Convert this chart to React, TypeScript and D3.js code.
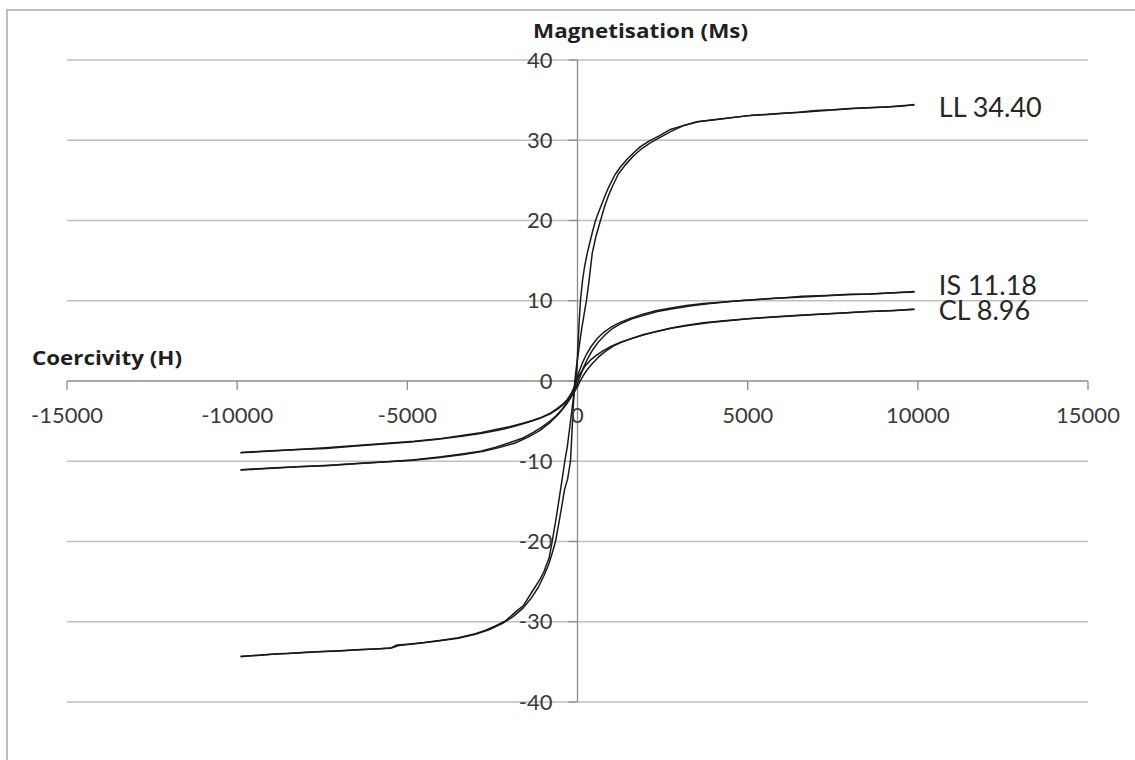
import * as d3 from "d3";

// hysteresis loops: H (coercivity) and M (magnetisation)
const llDownH = [9900, 9500, 9000, 8500, 8000, 7500, 7000, 6500, 6000, 5500, 5000, 4500, 4000, 3500, 3000, 2700, 2400, 2100, 1850, 1650, 1450, 1250, 1100, 920, 800, 700, 600, 530, 440, 360, 285, 210, 150, 88, 50, 15, -20, -60, -110, -170, -240, -300, -373, -450, -530, -620, -700, -745, -830, -920, -990, -1100, -1250, -1400, -1588, -1800, -2118, -2400, -2700, -3000, -3500, -4000, -4500, -5000, -5300, -5500, -6000, -6500, -7000, -7500, -8000, -8500, -9000, -9500, -9900];
const llDownM = [34.45, 34.25, 34.15, 34.05, 33.95, 33.8, 33.7, 33.5, 33.35, 33.2, 33.05, 32.8, 32.55, 32.3, 31.7, 31.3, 30.55, 29.9, 29.2, 28.45, 27.6, 26.6, 25.7, 24.2, 23.0, 21.9, 20.8, 20.0, 18.6, 17.2, 15.9, 14.3, 12.6, 10.1, 7.5, 4.5, 1.5, -0.3, -1.8, -3.8, -6.2, -8.2, -10.0, -12.2, -14.4, -16.9, -18.9, -20.0, -22.0, -23.0, -23.8, -24.7, -25.7, -26.7, -28.0, -28.7, -29.9, -30.5, -31.05, -31.5, -32.0, -32.3, -32.6, -32.8, -32.9, -33.3, -33.4, -33.5, -33.6, -33.7, -33.8, -33.95, -34.05, -34.2, -34.35];
const llUpH = [-9900, -9400, -8800, -8200, -7600, -7000, -6400, -5800, -5450, -5250, -4700, -4100, -3500, -3000, -2600, -2200, -1900, -1600, -1350, -1150, -980, -850, -740, -647, -560, -470, -380, -290, -206, -170, -140, -110, -80, -40, 10, 60, 120, 190, 265, 340, 432, 540, 676, 800, 920, 1021, 1200, 1400, 1656, 1900, 2150, 2441, 2750, 3100, 3600, 4100, 4600, 5100, 5600, 6100, 6600, 7100, 7600, 8100, 8600, 9100, 9500, 9900];
const llUpM = [-34.3, -34.2, -34.0, -33.9, -33.75, -33.65, -33.5, -33.35, -33.25, -32.95, -32.7, -32.4, -32.05, -31.55, -31.0, -30.2, -29.4, -28.3, -27.0, -25.7, -24.2, -22.9, -21.4, -20.0, -18.0, -15.8, -13.5, -12.2, -10.0, -7.0, -4.5, -2.0, 0.0, 1.5, 3.0, 4.6, 6.4, 8.2, 10.1, 12.5, 15.9, 18.0, 20.0, 21.8, 23.2, 24.2, 25.8, 26.9, 28.1, 29.0, 29.7, 30.4, 31.1, 31.8, 32.35, 32.6, 32.85, 33.1, 33.2, 33.35, 33.5, 33.65, 33.8, 33.95, 34.05, 34.15, 34.3, 34.4];

const isDownH = [9900, 9300, 8600, 8000, 7300, 6600, 6000, 5400, 4900, 4300, 3700, 3200, 2750, 2300, 1900, 1550, 1250, 1000, 780, 580, 400, 260, 150, 60, -10, -60, -110, -180, -300, -450, -620, -800, -1050, -1300, -1600, -2000, -2400, -2850, -3400, -4000, -4800, -5600, -6400, -7300, -8100, -9000, -9900];
const isDownM = [11.15, 11.0, 10.85, 10.8, 10.65, 10.55, 10.35, 10.2, 10.05, 9.85, 9.65, 9.4, 9.1, 8.75, 8.3, 7.8, 7.3, 6.75, 6.1, 5.3, 4.3, 3.3, 2.3, 1.3, 0.4, -0.3, -1.0, -1.8, -2.6, -3.5, -4.3, -4.95, -5.75, -6.4, -7.1, -7.7, -8.25, -8.75, -9.1, -9.45, -9.8, -10.05, -10.25, -10.5, -10.65, -10.85, -11.05];
const isUpH = [-9900, -9100, -8200, -7400, -6500, -5700, -4900, -4100, -3400, -2800, -2300, -1850, -1450, -1100, -800, -550, -350, -200, -90, 0, 80, 180, 300, 450, 620, 820, 1050, 1300, 1600, 1950, 2350, 2800, 3300, 3900, 4500, 5100, 5800, 6500, 7200, 7900, 8600, 9300, 9900];
const isUpM = [-11.1, -10.9, -10.7, -10.55, -10.3, -10.1, -9.9, -9.55, -9.2, -8.8, -8.3, -7.75, -7.0, -6.15, -5.15, -4.1, -3.05, -2.1, -1.2, -0.3, 0.6, 1.7, 2.8, 3.9, 4.9, 5.8, 6.6, 7.2, 7.75, 8.2, 8.65, 9.0, 9.35, 9.65, 9.9, 10.1, 10.3, 10.45, 10.6, 10.75, 10.85, 11.0, 11.1];

const clDownH = [9900, 9200, 8500, 7700, 7000, 6300, 5700, 5000, 4300, 3700, 3200, 2750, 2300, 1900, 1550, 1250, 980, 750, 550, 380, 230, 100, 0, -90, -180, -300, -450, -620, -800, -1050, -1300, -1600, -2000, -2400, -2850, -3400, -4000, -4800, -5600, -6400, -7300, -8100, -9000, -9900];
const clDownM = [8.9, 8.75, 8.65, 8.45, 8.3, 8.1, 7.95, 7.75, 7.5, 7.25, 6.95, 6.6, 6.15, 5.7, 5.25, 4.8, 4.3, 3.75, 3.2, 2.6, 1.9, 1.05, 0.3, -0.7, -1.5, -2.3, -2.95, -3.5, -4.0, -4.5, -4.9, -5.25, -5.7, -6.05, -6.45, -6.8, -7.15, -7.5, -7.75, -8.0, -8.3, -8.5, -8.7, -8.9];
const clUpH = [-9900, -9100, -8200, -7400, -6500, -5700, -4900, -4100, -3400, -2800, -2300, -1850, -1450, -1100, -800, -550, -350, -200, -90, 0, 80, 180, 300, 450, 620, 820, 1050, 1300, 1600, 1950, 2350, 2800, 3300, 3900, 4500, 5100, 5800, 6500, 7200, 7900, 8600, 9300, 9900];
const clUpM = [-8.95, -8.75, -8.55, -8.4, -8.1, -7.85, -7.6, -7.25, -6.9, -6.5, -6.1, -5.65, -5.15, -4.65, -4.1, -3.4, -2.7, -2.0, -1.35, -0.7, 0.0, 0.75, 1.5, 2.25, 3.0, 3.7, 4.35, 4.85, 5.3, 5.8, 6.2, 6.6, 6.95, 7.3, 7.55, 7.8, 8.0, 8.2, 8.35, 8.5, 8.65, 8.8, 8.96];

const xTicks = [-15000, -10000, -5000, 0, 5000, 10000, 15000];
const yTicks = [-40, -30, -20, -10, 0, 10, 20, 30, 40];
const sampleNames = ["LL 34.40", "IS 11.18", "CL 8.96"];

const W = 1135;
const H = 760;
const font = "Lato, 'Open Sans', sans-serif";
const titleFont = "'Open Sans', Lato, sans-serif";

const zip = (hs: number[], ms: number[]) => hs.map((h, i) => [h, ms[i]] as [number, number]);

const loops = [
  [zip(llDownH, llDownM), zip(llUpH, llUpM)],
  [zip(isDownH, isDownM), zip(isUpH, isUpM)],
  [zip(clDownH, clDownM), zip(clUpH, clUpM)],
];

export default function App() {
  const x = d3.scaleLinear().domain([-15000, 15000]).range([67, 1088]);
  const y = d3.scaleLinear().domain([-40, 40]).range([702, 60]);
  const line = d3
    .line<[number, number]>()
    .x((d) => x(d[0]))
    .y((d) => y(d[1]));

  // label baselines sit just beside the end of each loop
  const labelY = [y(34.45) + 12, y(11.15) + 3, y(8.96) + 11];

  return (
    <svg
      width={W}
      height={H}
      style={{ position: "absolute", left: 0, top: 0, display: "block", background: "#fff" }}
    >
      <rect x={7} y={10} width={1200} height={800} fill="#fff" stroke="#bfbfbf" strokeWidth={2} />

      {yTicks
        .filter((t) => t !== 0)
        .map((t) => (
          <line key={t} x1={x(-15000)} x2={x(15000)} y1={y(t)} y2={y(t)} stroke="#bfbfbf" strokeWidth={1.5} />
        ))}

      {/* axes crossing at zero */}
      <line x1={x(-15000)} x2={x(15000)} y1={y(0)} y2={y(0)} stroke="#8c8c8c" strokeWidth={1.3} />
      <line x1={x(0)} x2={x(0)} y1={y(40)} y2={y(-40)} stroke="#8c8c8c" strokeWidth={1.3} />
      {xTicks.map((t) => (
        <line key={t} x1={x(t)} x2={x(t)} y1={y(0)} y2={y(0) + 9} stroke="#8c8c8c" strokeWidth={1.3} />
      ))}
      {yTicks.map((t) => (
        <line key={t} x1={x(0) - 9} x2={x(0)} y1={y(t)} y2={y(t)} stroke="#8c8c8c" strokeWidth={1.3} />
      ))}

      {loops.map((branches, i) =>
        branches.map((b, j) => (
          <path key={`${i}-${j}`} d={line(b) ?? ""} fill="none" stroke="#1a1a1a" strokeWidth={1.5} strokeLinejoin="round" />
        ))
      )}

      {xTicks.map((t) => (
        <text key={t} x={x(t)} y={y(0) + 42} textAnchor="middle" fontFamily={font} fontSize={22} fill="#3a3a3a">
          {t}
        </text>
      ))}
      {yTicks.map((t) => (
        <text key={t} x={x(0) - 25} y={y(t)} dy="0.35em" textAnchor="end" fontFamily={font} fontSize={22} fill="#3a3a3a">
          {t}
        </text>
      ))}

      <text x={533} y={38} fontFamily={titleFont} fontSize={20} fontWeight="bold" fill="#1f1f1f" textLength={215} lengthAdjust="spacingAndGlyphs">
        Magnetisation (Ms)
      </text>
      <text x={32} y={365} fontFamily={titleFont} fontSize={20} fontWeight="bold" fill="#1f1f1f" textLength={150} lengthAdjust="spacingAndGlyphs">
        Coercivity (H)
      </text>

      {sampleNames.map((n, i) => (
        <text key={n} x={x(10000) + 21} y={labelY[i]} fontFamily={font} fontSize={27} fill="#262626">
          {n}
        </text>
      ))}
    </svg>
  );
}
